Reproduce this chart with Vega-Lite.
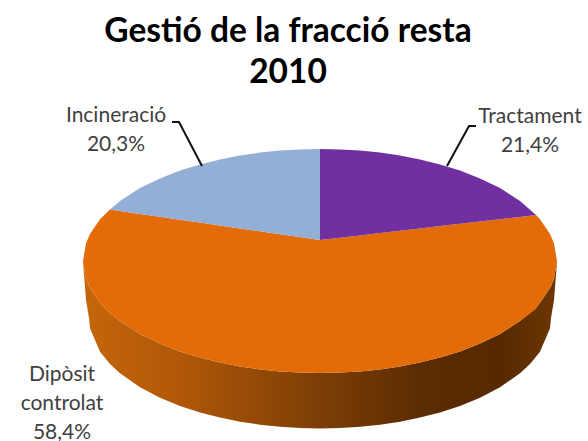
{"$schema":"https://vega.github.io/schema/vega-lite/v6.json","width":588,"height":441,"padding":0,"autosize":{"type":"none"},"background":"white","view":{"stroke":null},
"title":{"text":["Gestió de la fracció resta","2010"],"font":"Lato","fontSize":33.5,"fontWeight":"bold","color":"#000000","lineHeight":41,"anchor":"middle","dx":-6,"offset":-90},
"datasets":{
"wall":[{"x":83,"top":261,"bottom":262},{"x":86,"top":278.8,"bottom":300},{"x":89,"top":286,"bottom":318},{"x":90,"top":288,"bottom":328.3},{"x":100,"top":302.7,"bottom":351.7},{"x":110,"top":312.9,"bottom":364},{"x":120,"top":321.1,"bottom":373.3},{"x":140,"top":333.9,"bottom":387.3},{"x":160,"top":343.6,"bottom":397.7},{"x":180,"top":351.4,"bottom":405.9},{"x":200,"top":357.6,"bottom":412.4},{"x":220,"top":362.5,"bottom":417.6},{"x":240,"top":366.4,"bottom":421.7},{"x":260,"top":369.4,"bottom":424.7},{"x":280,"top":371.4,"bottom":426.8},{"x":300,"top":372.6,"bottom":428.1},{"x":320,"top":373,"bottom":428.5},{"x":340,"top":372.6,"bottom":428.1},{"x":360,"top":371.4,"bottom":426.8},{"x":380,"top":369.4,"bottom":424.7},{"x":400,"top":366.4,"bottom":421.7},{"x":420,"top":362.5,"bottom":417.6},{"x":440,"top":357.6,"bottom":412.4},{"x":460,"top":351.4,"bottom":405.9},{"x":480,"top":343.6,"bottom":397.7},{"x":500,"top":333.9,"bottom":387.3},{"x":520,"top":321.1,"bottom":373.3},{"x":530,"top":312.9,"bottom":364},{"x":540,"top":302.7,"bottom":351.7},{"x":550,"top":288,"bottom":328.3},{"x":551,"top":286,"bottom":318},{"x":554,"top":278.8,"bottom":300},{"x":557,"top":261,"bottom":262}],
"slices":[
{"part":"Dipòsit controlat","x":83,"top":261,"bottom":261},{"part":"Dipòsit controlat","x":86,"top":243.2,"bottom":278.8},{"part":"Dipòsit controlat","x":90,"top":234,"bottom":288},{"part":"Dipòsit controlat","x":100,"top":219.3,"bottom":302.7},{"part":"Dipòsit controlat","x":110,"top":209.5,"bottom":312.9},{"part":"Dipòsit controlat","x":120,"top":211,"bottom":321.1},{"part":"Dipòsit controlat","x":140,"top":213.9,"bottom":333.9},{"part":"Dipòsit controlat","x":160,"top":216.8,"bottom":343.6},{"part":"Dipòsit controlat","x":180,"top":219.7,"bottom":351.4},{"part":"Dipòsit controlat","x":200,"top":222.6,"bottom":357.6},{"part":"Dipòsit controlat","x":220,"top":225.5,"bottom":362.5},{"part":"Dipòsit controlat","x":240,"top":228.4,"bottom":366.4},{"part":"Dipòsit controlat","x":260,"top":231.3,"bottom":369.4},{"part":"Dipòsit controlat","x":280,"top":234.2,"bottom":371.4},{"part":"Dipòsit controlat","x":300,"top":237.1,"bottom":372.6},{"part":"Dipòsit controlat","x":320,"top":240,"bottom":373},{"part":"Dipòsit controlat","x":340,"top":237.7,"bottom":372.6},{"part":"Dipòsit controlat","x":360,"top":235.4,"bottom":371.4},{"part":"Dipòsit controlat","x":380,"top":233.1,"bottom":369.4},{"part":"Dipòsit controlat","x":400,"top":230.7,"bottom":366.4},{"part":"Dipòsit controlat","x":420,"top":228.4,"bottom":362.5},{"part":"Dipòsit controlat","x":440,"top":226.1,"bottom":357.6},{"part":"Dipòsit controlat","x":460,"top":223.8,"bottom":351.4},{"part":"Dipòsit controlat","x":480,"top":221.5,"bottom":343.6},{"part":"Dipòsit controlat","x":500,"top":219.2,"bottom":333.9},{"part":"Dipòsit controlat","x":520,"top":216.9,"bottom":321.1},{"part":"Dipòsit controlat","x":536,"top":215,"bottom":309},{"part":"Dipòsit controlat","x":540,"top":219.3,"bottom":302.7},{"part":"Dipòsit controlat","x":550,"top":234,"bottom":288},{"part":"Dipòsit controlat","x":554,"top":243.2,"bottom":278.8},{"part":"Dipòsit controlat","x":557,"top":261,"bottom":261},
{"part":"Incineració","x":110,"top":209.5,"bottom":209.5},{"part":"Incineració","x":120,"top":200.9,"bottom":211},{"part":"Incineració","x":140,"top":188.1,"bottom":213.9},{"part":"Incineració","x":160,"top":178.4,"bottom":216.8},{"part":"Incineració","x":180,"top":170.6,"bottom":219.7},{"part":"Incineració","x":200,"top":164.4,"bottom":222.6},{"part":"Incineració","x":220,"top":159.5,"bottom":225.5},{"part":"Incineració","x":240,"top":155.6,"bottom":228.4},{"part":"Incineració","x":260,"top":152.6,"bottom":231.3},{"part":"Incineració","x":280,"top":150.6,"bottom":234.2},{"part":"Incineració","x":300,"top":149.4,"bottom":237.1},{"part":"Incineració","x":320,"top":149,"bottom":240},
{"part":"Tractament","x":320,"top":149,"bottom":240},{"part":"Tractament","x":340,"top":149.4,"bottom":237.7},{"part":"Tractament","x":360,"top":150.6,"bottom":235.4},{"part":"Tractament","x":380,"top":152.6,"bottom":233.1},{"part":"Tractament","x":400,"top":155.6,"bottom":230.7},{"part":"Tractament","x":420,"top":159.5,"bottom":228.4},{"part":"Tractament","x":440,"top":164.4,"bottom":226.1},{"part":"Tractament","x":460,"top":170.6,"bottom":223.8},{"part":"Tractament","x":480,"top":178.4,"bottom":221.5},{"part":"Tractament","x":500,"top":188.1,"bottom":219.2},{"part":"Tractament","x":520,"top":200.9,"bottom":216.9},{"part":"Tractament","x":536,"top":215,"bottom":215}],
"leaders":[{"part":"Incineració","seq":1,"x":172,"y":122},{"part":"Incineració","seq":2,"x":179,"y":122},{"part":"Incineració","seq":3,"x":202,"y":166},{"part":"Tractament","seq":1,"x":476,"y":126},{"part":"Tractament","seq":2,"x":469,"y":126},{"part":"Tractament","seq":3,"x":447,"y":166}],
"labels":[{"text":"Incineració\n20,3%","x":116,"y":116},{"text":"Tractament\n21,4%","x":530,"y":117},{"text":"Dipòsit\ncontrolat\n58,4%","x":62,"y":375}]},
"layer":[
{"data":{"name":"wall"},"mark":{"type":"area","color":{"gradient":"linear","x1":0,"y1":0,"x2":1,"y2":0,"stops":[{"offset":0.013,"color":"#c4650b"},{"offset":0.205,"color":"#b05808"},{"offset":0.5,"color":"#7c3e06"},{"offset":0.711,"color":"#5c2c02"},{"offset":0.88,"color":"#562900"},{"offset":0.985,"color":"#6b3503"}]}},
"encoding":{"x":{"field":"x","type":"quantitative","axis":null,"scale":{"domain":[0,588],"nice":false,"zero":false}},"y":{"field":"top","type":"quantitative","axis":null,"scale":{"domain":[441,0],"nice":false,"zero":false}},"y2":{"field":"bottom"}}},
{"data":{"name":"slices"},"mark":{"type":"area"},
"encoding":{"x":{"field":"x","type":"quantitative","axis":null,"scale":{"domain":[0,588],"nice":false,"zero":false}},"y":{"field":"top","type":"quantitative","axis":null,"scale":{"domain":[441,0],"nice":false,"zero":false}},"y2":{"field":"bottom"},"color":{"field":"part","type":"nominal","legend":null,"scale":{"domain":["Dipòsit controlat","Incineració","Tractament"],"range":["#e36c09","#93afd6","#7030a0"]}}}},
{"data":{"name":"leaders"},"mark":{"type":"line","color":"#111111","strokeWidth":2},
"encoding":{"x":{"field":"x","type":"quantitative","axis":null,"scale":{"domain":[0,588],"nice":false,"zero":false}},"y":{"field":"y","type":"quantitative","axis":null,"scale":{"domain":[441,0],"nice":false,"zero":false}},"detail":{"field":"part"},"order":{"field":"seq","type":"quantitative"}}},
{"data":{"name":"labels"},"mark":{"type":"text","font":"Lato","fontSize":21,"color":"#404040","lineBreak":"\n","lineHeight":29,"align":"center","baseline":"middle"},
"encoding":{"x":{"field":"x","type":"quantitative","axis":null,"scale":{"domain":[0,588],"nice":false,"zero":false}},"y":{"field":"y","type":"quantitative","axis":null,"scale":{"domain":[441,0],"nice":false,"zero":false}},"text":{"field":"text"}}}
]}
